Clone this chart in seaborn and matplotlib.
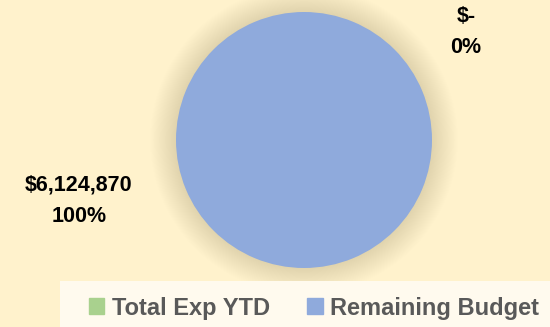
import matplotlib
matplotlib.use("Agg")
import matplotlib.pyplot as plt
import seaborn as sns
from matplotlib.patches import Circle, Rectangle

categories = ["Total Exp YTD", "Remaining Budget"]
values = [0, 6124870]
colors = ["#A9D18E", "#8FAADC"]

sns.set_theme(style="white")
plt.rcParams['font.family'] = ['Liberation Sans', 'DejaVu Sans']

fig = plt.figure(figsize=(5.5, 3.27), dpi=100)
fig.patch.set_facecolor("#FFF2CC")

W, H = 550, 327
cx, cy, r = 304, 140, 128
L = 1.3
ax = fig.add_axes([(cx - r * L) / W, 1 - (cy + r * L) / H, 2 * r * L / W, 2 * r * L / H])
ax.set_facecolor("none")

wedges, _ = ax.pie(values, colors=colors, startangle=90, counterclock=False,
                   radius=1.0, wedgeprops=dict(linewidth=0), normalize=True)
for w in wedges:
    w.set_zorder(2)
ax.set_xlim(-L, L)
ax.set_ylim(-L, L)
ax.set_aspect("equal")
ax.axis("off")

# soft shadow
n = 30
for i in range(n):
    rad = 1.0 + 0.2 * (1 - i / n)
    ax.add_patch(Circle((0, 0.0), rad, color="#C8B48A", alpha=0.012, lw=0, zorder=0))

total = sum(values)
def money(v):
    return "$-" if v == 0 else "${:,.0f}".format(v)

label_pos = [(466 / W, 1 - 32 / H), (79 / W, 1 - 201 / H)]
for v, (x, y) in zip(values, label_pos):
    fig.text(x, y, f"{money(v)}\n{v / total * 100:.0f}%", ha="center", va="center",
             fontsize=15.5, fontweight="bold", color="black", linespacing=1.65)

# legend band
fig.patches.append(Rectangle((60 / W, 0), 490 / W, 46 / H, transform=fig.transFigure,
                             facecolor="#FFFAEE", edgecolor="none", zorder=1))
handles = [plt.Rectangle((0, 0), 1, 1, color=c) for c in colors]
leg = fig.legend(handles, categories, loc="center", bbox_to_anchor=(314 / W, 1 - 308 / H),
                 ncol=2, frameon=False, fontsize=17, handlelength=0.65, handleheight=0.65,
                 handletextpad=0.3, columnspacing=1.6)
for t in leg.get_texts():
    t.set_color("#595959")
    t.set_fontweight("bold")

fig.savefig("out.png", dpi=100, facecolor=fig.get_facecolor())
